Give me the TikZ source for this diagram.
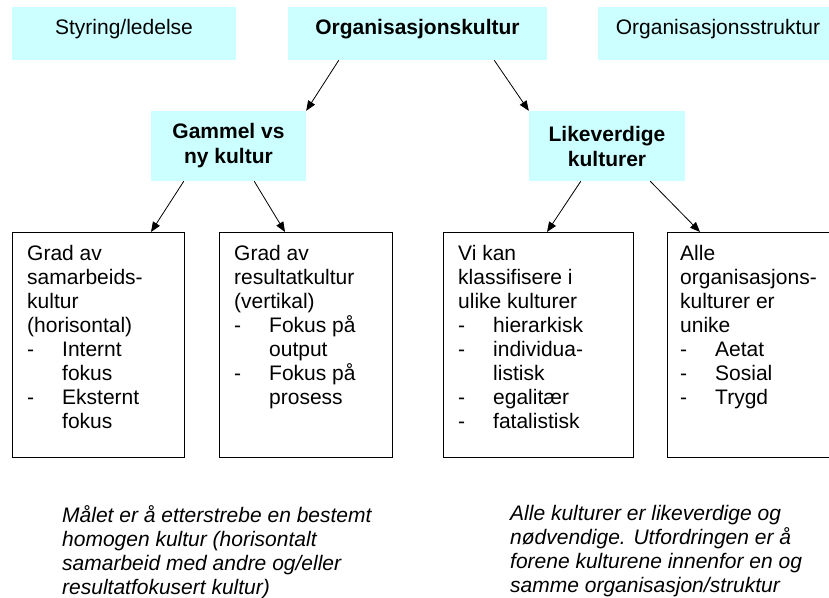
\documentclass[tikz,border=0pt]{standalone}
\usepackage{fontspec}
\setmainfont{Liberation Sans}
\usepackage{tikz}
\usetikzlibrary{arrows.meta}
\definecolor{lysbla}{HTML}{CCFFFF}
\newcommand{\strek}{\makebox[35pt][l]{-}}
\newcommand{\innrykk}{\hspace*{35pt}}
\tikzset{
  toppboks/.style={fill=lysbla, inner sep=0pt, text height=27pt, text depth=26pt, font=\fontsize{21}{25}\selectfont},
  midtboks/.style={fill=lysbla, inner sep=0pt, minimum height=70pt, align=center, font=\fontsize{21}{25}\selectfont\bfseries},
  ramme/.style={draw, line width=1pt, inner sep=0pt, minimum height=225pt, anchor=north west},
  tekst/.style={inner sep=0pt, anchor=north west, align=left, font=\fontsize{21}{24}\selectfont},
  pil/.style={-{Triangle[length=10pt,width=8pt]}, line width=0.8pt}
}

\begin{document}
\begin{tikzpicture}[x=1pt,y=-1pt]
\useasboundingbox (0,0) rectangle (829,597);
\node[toppboks, minimum width=224pt] (styring) at (124,33.5) {Styring/ledelse};
\node[toppboks, minimum width=259pt] (kultur) at (417.5,33.5) {\bfseries Organisasjonskultur};
\node[toppboks, minimum width=240pt] (struktur) at (718,33.5) {Organisasjonsstruktur};
\node[midtboks, minimum width=155pt] (gammel) at (228.5,146) {Gammel vs\\ny kultur};
\node[midtboks, minimum width=156pt] (likeverd) at (607,146) {Likeverdige\\kulturer};
\node[ramme, minimum width=172pt] (samarbeid) at (12,232) {};
\node[ramme, minimum width=173pt] (resultat) at (219,232) {};
\node[ramme, minimum width=190pt] (klasser) at (443,232) {};
\node[ramme, minimum width=190pt] (unike) at (667,232) {};
\node[tekst] (samarbeidtekst) at ([xshift=15pt,yshift=-13pt]samarbeid.north west) {Grad av\\samarbeids-\\kultur\\(horisontal)\\\strek Internt\\\innrykk fokus\\\strek Eksternt\\\innrykk fokus};
\node[tekst] (resultattekst) at ([xshift=15pt,yshift=-13pt]resultat.north west) {Grad av\\resultatkultur\\(vertikal)\\\strek Fokus på\\\innrykk output\\\strek Fokus på\\\innrykk prosess};
\node[tekst] (klassertekst) at ([xshift=15pt,yshift=-13pt]klasser.north west) {Vi kan\\klassifisere i\\ulike kulturer\\\strek hierarkisk\\\strek individua-\\\innrykk listisk\\\strek egalitær\\\strek fatalistisk};
\node[tekst] (uniketekst) at ([xshift=13pt,yshift=-13pt]unike.north west) {Alle\\organisasjons-\\kulturer er\\unike\\\strek Aetat\\\strek Sosial\\\strek Trygd};
\node[tekst, font=\fontsize{21}{24}\selectfont\itshape] (maal) at (62,505) {Målet er å etterstrebe en bestemt\\homogen kultur (horisontalt\\samarbeid med andre og/eller\\resultatfokusert kultur)};
\node[tekst, font=\fontsize{21}{24}\selectfont\itshape] (forene) at (510,505) {Alle kulturer er likeverdige og\\nødvendige. Utfordringen er å\\forene kulturene innenfor en og\\samme organisasjon/struktur};
\draw[pil] ([xshift=51pt]kultur.south west) -- (gammel.north east);
\draw[pil] ([xshift=-53pt]kultur.south east) -- (likeverd.north west);
\draw[pil] ([xshift=33pt]gammel.south west) -- ([xshift=-34pt]samarbeid.north east);
\draw[pil] ([xshift=-52pt]gammel.south east) -- ([xshift=66pt]resultat.north west);
\draw[pil] ([xshift=52pt]likeverd.south west) -- ([xshift=104pt]klasser.north west);
\draw[pil] ([xshift=-35pt]likeverd.south east) -- ([xshift=33pt]unike.north west);
\end{tikzpicture}
\end{document}
